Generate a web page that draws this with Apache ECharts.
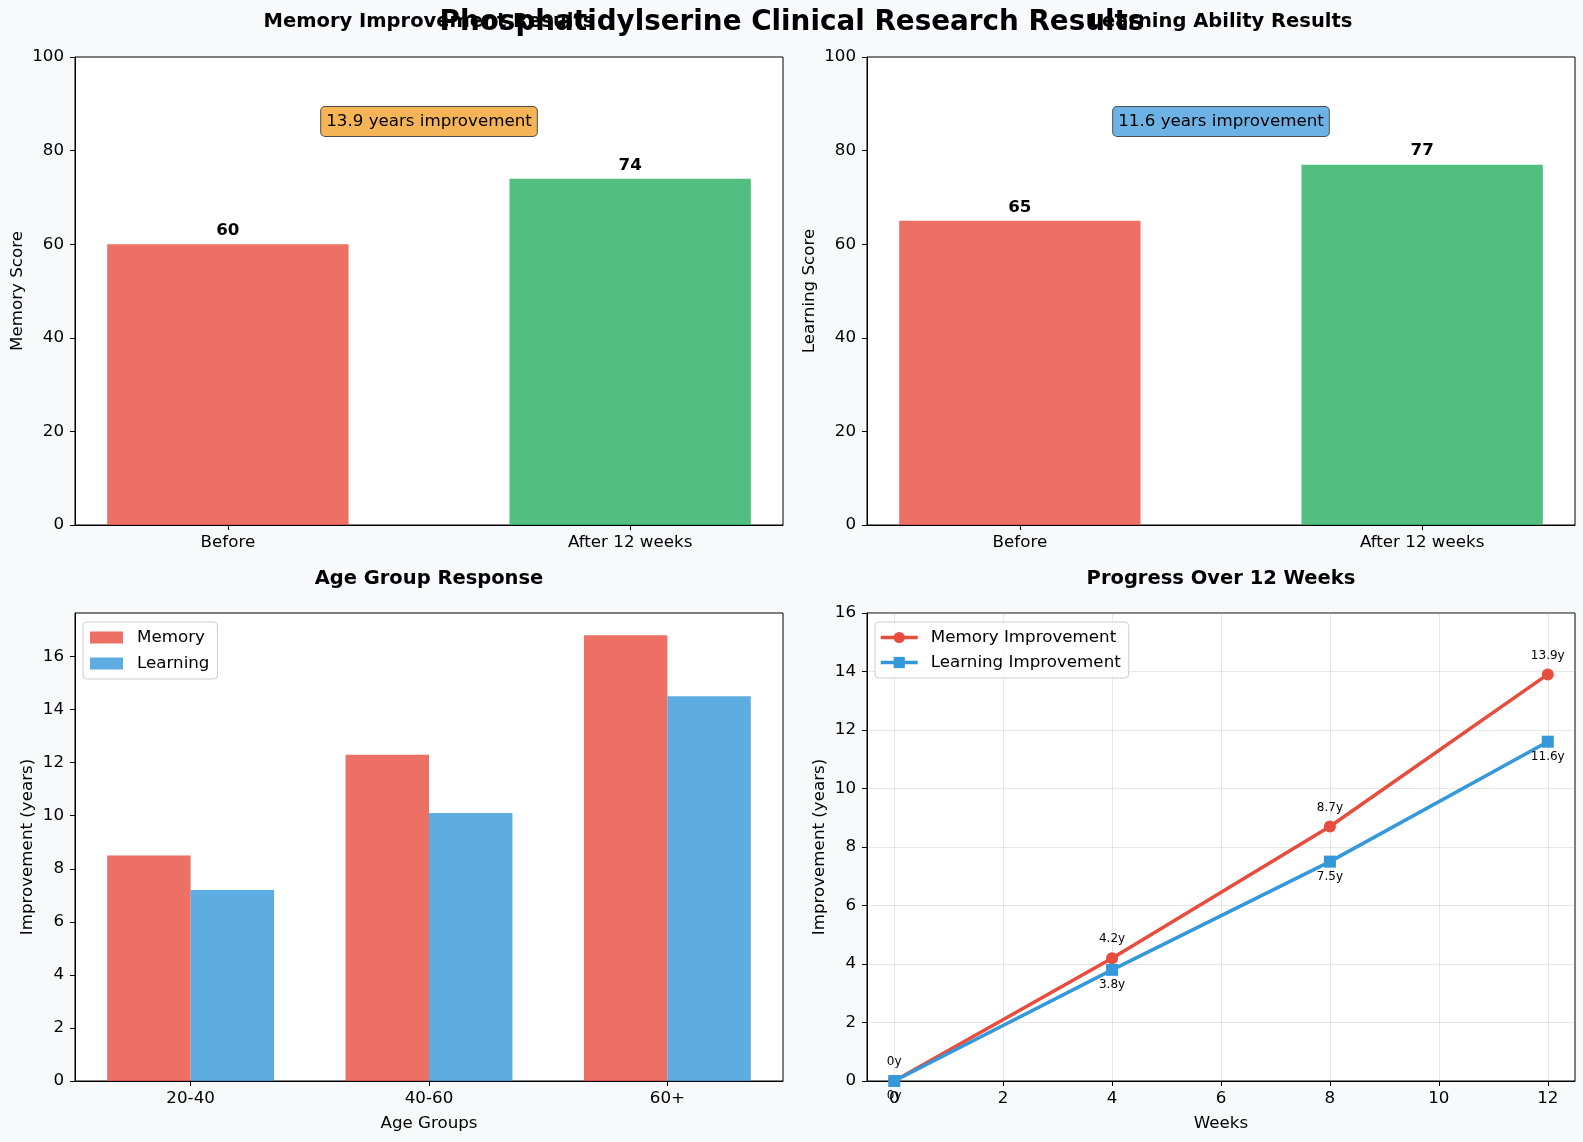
<!DOCTYPE html>
<html>
<head>
<meta charset="utf-8">
<script src="https://cdn.jsdelivr.net/npm/echarts@6/dist/echarts.min.js"></script>
<style>
html,body{margin:0;padding:0;background:#f8f9fa;}
#chart{width:1583px;height:1142px;}
</style>
</head>
<body>
<div id="chart"></div>
<script>
// ---- data ----
const scoreCategories = ['Before', 'After 12 weeks'];
const memoryScores = [60, 74];
const learningScores = [65, 77];
const scoreTicks = [0, 20, 40, 60, 80, 100];

const ageGroups = ['20-40', '40-60', '60+'];
const ageMemory = [8.5, 12.3, 16.8];
const ageLearning = [7.2, 10.1, 14.5];
const ageTicks = [0, 2, 4, 6, 8, 10, 12, 14, 16];

const weeks = [0, 4, 8, 12];
const memoryProgress = [0, 4.2, 8.7, 13.9];
const learningProgress = [0, 3.8, 7.5, 11.6];
const weekTicks = [0, 2, 4, 6, 8, 10, 12];
const progressTicks = [0, 2, 4, 6, 8, 10, 12, 14, 16];

// ---- style ----
const FONT = 'DejaVu Sans';
const FS = 16.7;
const RED = '#e74c3c', GREEN = '#27ae60', BLUE = '#3498db';
const RED_A = 'rgba(231,76,60,0.8)', GREEN_A = 'rgba(39,174,96,0.8)', BLUE_A = 'rgba(52,152,219,0.8)';
const GW = 708, GH = 468;
const grids = [
  {left: 75, top: 57}, {left: 867, top: 57},
  {left: 75, top: 613}, {left: 867, top: 613}
];

const chart = echarts.init(document.getElementById('chart'));

function gridOpt(g) {
  return {left: g.left, top: g.top, width: GW, height: GH, show: true,
    backgroundColor: '#ffffff', borderColor: '#000', borderWidth: 1, containLabel: false};
}
const tickLabel = {fontFamily: FONT, fontSize: FS, color: '#000'};
function baseAxis(extra) {
  return Object.assign({
    axisLine: {show: true, onZero: false, lineStyle: {color: '#000', width: 1}},
    axisTick: {show: true, inside: false, length: 5, lineStyle: {color: '#000'}},
    splitLine: {show: false},
    nameTextStyle: {fontFamily: FONT, fontSize: FS, color: '#000'}
  }, extra);
}

// x ranges (matplotlib style margins)
const topMin = -0.38, topMax = 1.38;
const topBarW = GW / (topMax - topMin) * 0.6;
const ageMin = -0.485, ageMax = 2.485;
const ageBarW = GW / (ageMax - ageMin) * 0.35;
const weekMin = -0.5, weekMax = 12.5;

function catXAxis(gi, cats, min, max, name) {
  const vals = cats.map((c, i) => i);
  return baseAxis({
    type: 'value', gridIndex: gi, min: min, max: max,
    name: name || '', nameLocation: 'middle', nameGap: 34,
    axisTick: {show: true, inside: false, length: 5, lineStyle: {color: '#000'}, customValues: vals},
    axisLabel: Object.assign({}, tickLabel, {margin: 9, customValues: vals,
      formatter: v => cats[Math.round(v)] || ''})
  });
}

const legendText = {fontFamily: FONT, fontSize: FS, color: '#000', padding: [0, 0, 0, 9]};

const option = {
  backgroundColor: '#f8f9fa',
  animation: false,
  textStyle: {fontFamily: FONT},
  grid: grids.map(gridOpt),
  xAxis: [
    catXAxis(0, scoreCategories, topMin, topMax),
    catXAxis(1, scoreCategories, topMin, topMax),
    catXAxis(2, ageGroups, ageMin, ageMax, 'Age Groups'),
    baseAxis({
      type: 'value', gridIndex: 3, min: weekMin, max: weekMax, splitNumber: 6,
      name: 'Weeks', nameLocation: 'middle', nameGap: 34,
      axisTick: {show: true, inside: false, length: 5, lineStyle: {color: '#000'}, customValues: weekTicks},
      axisLabel: Object.assign({}, tickLabel, {margin: 9, customValues: weekTicks}),
      splitLine: {show: true, customValues: weekTicks, lineStyle: {color: 'rgba(176,176,176,0.3)', width: 1}}
    })
  ],
  yAxis: [
    baseAxis({type: 'value', gridIndex: 0, min: 0, max: 100, interval: 20,
      name: 'Memory Score', nameLocation: 'middle', nameGap: 49,
      axisLabel: Object.assign({}, tickLabel, {margin: 11})}),
    baseAxis({type: 'value', gridIndex: 1, min: 0, max: 100, interval: 20,
      name: 'Learning Score', nameLocation: 'middle', nameGap: 49,
      axisLabel: Object.assign({}, tickLabel, {margin: 11})}),
    baseAxis({type: 'value', gridIndex: 2, min: 0, max: 17.64,
      name: 'Improvement (years)', nameLocation: 'middle', nameGap: 39,
      axisTick: {show: true, inside: false, length: 5, lineStyle: {color: '#000'}, customValues: ageTicks},
      axisLabel: Object.assign({}, tickLabel, {margin: 11, customValues: ageTicks})}),
    baseAxis({type: 'value', gridIndex: 3, min: 0, max: 16, interval: 2,
      name: 'Improvement (years)', nameLocation: 'middle', nameGap: 39,
      axisLabel: Object.assign({}, tickLabel, {margin: 11}),
      splitLine: {show: true, lineStyle: {color: 'rgba(176,176,176,0.3)', width: 1}}})
  ],
  legend: [
    {
      data: ['Memory', 'Learning'], orient: 'vertical', left: 83, top: 622,
      icon: 'rect', itemWidth: 33, itemHeight: 12, itemGap: 9,
      padding: [7, 8, 7, 7], backgroundColor: 'rgba(255,255,255,0.8)',
      borderColor: '#cccccc', borderWidth: 1, borderRadius: 4,
      textStyle: legendText
    },
    {
      data: ['Memory Improvement', 'Learning Improvement'], orient: 'vertical', left: 875, top: 622,
      itemWidth: 37, itemHeight: 14, itemGap: 8,
      padding: [7, 8, 7, 4], backgroundColor: 'rgba(255,255,255,0.8)',
      borderColor: '#cccccc', borderWidth: 1, borderRadius: 4,
      lineStyle: {width: 3.5},
      textStyle: Object.assign({}, legendText, {padding: [0, 0, 0, 8]})
    }
  ],
  graphic: [
    {type: 'text', x: 792, y: 23, silent: true, style: {text: 'Phosphatidylserine Clinical Research Results',
      font: 'bold 27.8px "DejaVu Sans"', fill: '#000', align: 'center', verticalAlign: 'middle'}, z: 100},
    {type: 'text', x: 429, y: 22, silent: true, style: {text: 'Memory Improvement Results',
      font: 'bold 19.5px "DejaVu Sans"', fill: '#000', align: 'center', verticalAlign: 'middle'}, z: 99},
    {type: 'text', x: 1221, y: 22, silent: true, style: {text: 'Learning Ability Results',
      font: 'bold 19.5px "DejaVu Sans"', fill: '#000', align: 'center', verticalAlign: 'middle'}, z: 99},
    {type: 'text', x: 429, y: 579, silent: true, style: {text: 'Age Group Response',
      font: 'bold 19.5px "DejaVu Sans"', fill: '#000', align: 'center', verticalAlign: 'middle'}, z: 99},
    {type: 'text', x: 1221, y: 579, silent: true, style: {text: 'Progress Over 12 Weeks',
      font: 'bold 19.5px "DejaVu Sans"', fill: '#000', align: 'center', verticalAlign: 'middle'}, z: 99}
  ],
  series: []
};

function scoreBars(gi, values) {
  return {
    type: 'bar', xAxisIndex: gi, yAxisIndex: gi, barWidth: topBarW,
    data: values.map((v, i) => ({value: [i, v], itemStyle: {color: i === 0 ? RED_A : GREEN_A}})),
    label: {show: true, position: 'top', distance: 5, fontFamily: FONT, fontSize: FS,
      fontWeight: 'bold', color: '#000', formatter: p => String(p.value[1])}
  };
}
function improvementBox(gi, text, bg) {
  return {
    type: 'scatter', xAxisIndex: gi, yAxisIndex: gi, symbolSize: 0, silent: true, z: 10,
    itemStyle: {opacity: 1},
    data: [[0.5, 86.2]],
    label: {show: true, position: 'inside', formatter: text, fontFamily: FONT, fontSize: FS, color: '#000',
      backgroundColor: bg, borderColor: '#4d4d4d', borderWidth: 1, borderRadius: 4, padding: [6, 5, 6, 5]}
  };
}

option.series.push(scoreBars(0, memoryScores));
option.series.push(scoreBars(1, learningScores));
option.series.push(improvementBox(0, memoryProgress[memoryProgress.length - 1] + ' years improvement', '#f5b455'));
option.series.push(improvementBox(1, learningProgress[learningProgress.length - 1] + ' years improvement', '#6db2e4'));

option.series.push({
  name: 'Memory', type: 'bar', xAxisIndex: 2, yAxisIndex: 2, barWidth: ageBarW, barGap: '-100%',
  itemStyle: {color: RED_A},
  data: ageMemory.map((v, i) => [i - 0.175, v])
});
option.series.push({
  name: 'Learning', type: 'bar', xAxisIndex: 2, yAxisIndex: 2, barWidth: ageBarW, barGap: '-100%',
  itemStyle: {color: BLUE_A},
  data: ageLearning.map((v, i) => [i + 0.175, v])
});

option.series.push({
  name: 'Memory Improvement', type: 'line', xAxisIndex: 3, yAxisIndex: 3,
  symbol: 'circle', symbolSize: 12, lineStyle: {color: RED, width: 3.5}, itemStyle: {color: RED},
  data: weeks.map((w, i) => [w, memoryProgress[i]]),
  label: {show: true, position: 'top', distance: 7, fontFamily: FONT, fontSize: 12, color: '#000',
    formatter: p => p.value[1] + 'y'}
});
option.series.push({
  name: 'Learning Improvement', type: 'line', xAxisIndex: 3, yAxisIndex: 3,
  symbol: 'rect', symbolSize: 12, lineStyle: {color: BLUE, width: 3.5}, itemStyle: {color: BLUE},
  data: weeks.map((w, i) => [w, learningProgress[i]]),
  label: {show: true, position: 'bottom', distance: 3, fontFamily: FONT, fontSize: 12, color: '#000',
    formatter: p => p.value[1] + 'y'}
});

chart.setOption(option);
</script>
</body>
</html>
